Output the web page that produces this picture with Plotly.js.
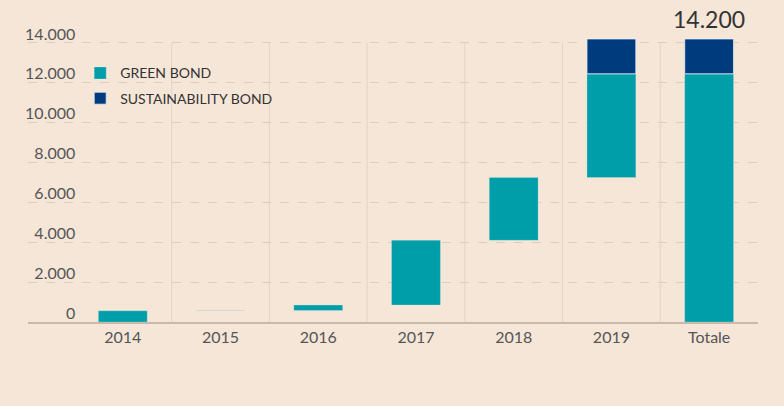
<!DOCTYPE html>
<html>
<head>
<meta charset="utf-8">
<script src="https://cdn.plot.ly/plotly-3.0.1.min.js"></script>
<style>html,body{margin:0;padding:0;background:#f6e6d8;}#chart{width:784px;height:406px;}</style>
</head>
<body>
<div id="chart"></div>
<script>
// Data (millions)
const categories = ['2014', '2015', '2016', '2017', '2018', '2019', 'Totale'];
const greenIncrements = [560, 20, 270, 3250, 3150, 5200];   // yearly Green Bond issuance
const sustainabilityIncrements = [0, 0, 0, 0, 0, 1750];      // yearly Sustainability Bond issuance
const yTickValues = [0, 2000, 4000, 6000, 8000, 10000, 12000, 14000];
const seriesNames = ['GREEN BOND', 'SUSTAINABILITY BOND'];

function fmt(v) { return String(Math.round(v)).replace(/\B(?=(\d{3})+(?!\d))/g, '.'); }

// Waterfall construction from the arrays
const greenTotal = greenIncrements.reduce((a, b) => a + b, 0);
const sustTotal = sustainabilityIncrements.reduce((a, b) => a + b, 0);
const grandTotal = greenTotal + sustTotal;

const greenBase = [], greenY = [];
let cum = 0;
greenIncrements.forEach(v => { greenBase.push(cum); greenY.push(v); cum += v; });
greenBase.push(0); greenY.push(greenTotal);

const sustX = [], sustBase = [], sustY = [];
let cumS = 0, cumG = 0;
sustainabilityIncrements.forEach((v, i) => {
  cumG += greenIncrements[i];
  if (v > 0) { sustX.push(categories[i]); sustBase.push(cumG + cumS); sustY.push(v); }
  cumS += v;
});
sustX.push('Totale'); sustBase.push(greenTotal); sustY.push(sustTotal);

const TEAL = '#009ea8', NAVY = '#003b7e', BG = '#f6e6d8';

const traces = [
  { type: 'bar', name: seriesNames[0], x: categories, y: greenY, base: greenBase, width: 0.5,
    marker: { color: TEAL, line: { color: 'rgba(246,240,235,0.5)', width: 0.5 } },
    legendgroup: 'g', hoverinfo: 'skip' },
  { type: 'bar', name: seriesNames[1], x: sustX, y: sustY, base: sustBase, width: 0.5,
    marker: { color: NAVY, line: { color: 'rgba(235,240,245,0.8)', width: 1 } },
    legendgroup: 's', hoverinfo: 'skip' }
];

const shapes = [];
for (let i = 0; i < categories.length - 1; i++) {
  shapes.push({ type: 'line', xref: 'x', yref: 'y', x0: i + 0.5, x1: i + 0.5,
    y0: 0, y1: yTickValues[yTickValues.length - 1], layer: 'below',
    line: { color: '#e2d3c4', width: 1 } });
}

const layout = {
  width: 784, height: 406,
  paper_bgcolor: BG, plot_bgcolor: BG,
  margin: { l: 28, r: 26, t: 23, b: 84 },
  barmode: 'overlay',
  showlegend: true,
  legend: { x: 0.0715, xanchor: 'left', y: 0.885, yanchor: 'top', bgcolor: 'rgba(0,0,0,0)',
    font: { family: 'Lato, sans-serif', size: 14, color: '#333' },
    traceorder: 'grouped', tracegroupgap: 4 },
  font: { family: 'Lato, sans-serif', color: '#555' },
  xaxis: { type: 'category', range: [-0.97, 6.5], showgrid: false, showline: true,
    linecolor: '#c8b9ab', linewidth: 1.5, ticks: '', tickfont: { size: 16, color: '#555' },
    fixedrange: true },
  yaxis: { range: [0, 15000], tickvals: yTickValues, ticktext: yTickValues.map(fmt),
    anchor: 'free', position: 0.0675, showline: false, ticks: '',
    showgrid: true, gridcolor: '#dccdbf', griddash: 'dash', gridwidth: 1,
    zeroline: false, ticklabelshift: -9, ticklabelstandoff: 2,
    tickfont: { size: 16, color: '#555' }, fixedrange: true },
  shapes: shapes,
  annotations: [{ x: 'Totale', y: grandTotal, xref: 'x', yref: 'y', text: fmt(grandTotal),
    showarrow: false, yanchor: 'bottom', yshift: 4,
    font: { family: 'Lato, sans-serif', size: 23, color: '#333' } }]
};

Plotly.newPlot('chart', traces, layout, { displayModeBar: false, staticPlot: true });
</script>
</body>
</html>
